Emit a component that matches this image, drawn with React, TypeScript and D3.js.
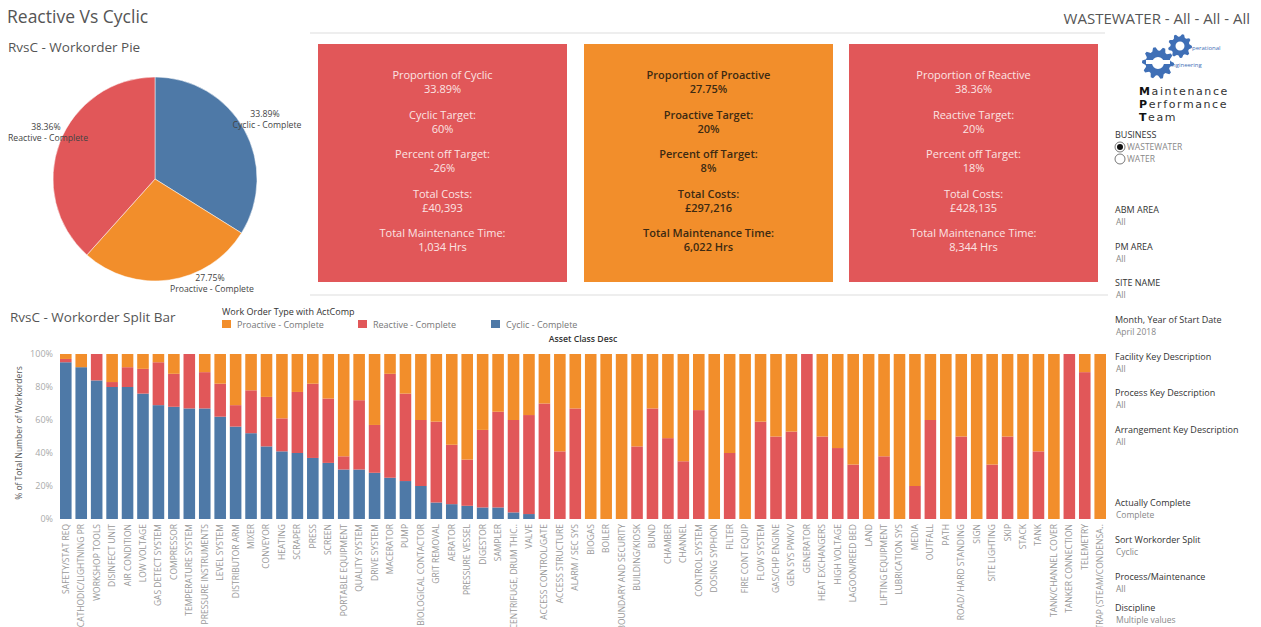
import React from "react";
import * as d3 from "d3";

// ---------- DATA ----------
const pieCategories = ["Cyclic - Complete", "Proactive - Complete", "Reactive - Complete"];
const pieValues = [33.89, 27.75, 38.36];

const assetClasses = [
  "SAFETY/STAT REQ", "CATHODIC/LIGHTNING PR", "WORKSHOP TOOLS", "DISINFECT UNIT", "AIR CONDITION",
  "LOW VOLTAGE", "GAS DETECT SYSTEM", "COMPRESSOR", "TEMPERATURE SYSTEM", "PRESSURE INSTRUMENTS",
  "LEVEL SYSTEM", "DISTRIBUTOR ARM", "MIXER", "CONVEYOR", "HEATING", "SCRAPER", "PRESS", "SCREEN",
  "PORTABLE EQUIPMENT", "QUALITY SYSTEM", "DRIVE SYSTEM", "MACERATOR", "PUMP", "BIOLOGICAL CONTACTOR",
  "GRIT REMOVAL", "AERATOR", "PRESSURE VESSEL", "DIGESTOR", "SAMPLER", "CENTRIFUGE, DRUM THIC..",
  "VALVE", "ACCESS CONTROL/GATE", "ACCESS STRUCTURE", "ALARM / SEC SYS", "BIOGAS", "BOILER",
  "BOUNDARY AND SECURITY", "BUILDING/KIOSK", "BUND", "CHAMBER", "CHANNEL", "CONTROL SYSTEM",
  "DOSING SYPHON", "FILTER", "FIRE CONT EQUIP", "FLOW SYSTEM", "GAS/CHP ENGINE", "GEN SYS PWK/V",
  "GENERATOR", "HEAT EXCHANGERS", "HIGH VOLTAGE", "LAGOON/REED BED", "LAND", "LIFTING EQUIPMENT",
  "LUBRICATION SYS", "MEDIA", "OUTFALL", "PATH", "ROAD/ HARD STANDING", "SIGN", "SITE LIGHTING",
  "SKIP", "STACK", "TANK", "TANK/CHANNEL COVER", "TANKER CONNECTION", "TELEMETRY", "TRAP (STEAM/CONDENSA..",
];
const cyclicPct = [
  95, 92, 84, 80, 80, 76, 69, 68, 67, 67, 62, 56, 52, 44, 41, 40, 37, 34, 30, 30, 28, 25, 23, 20,
  10, 9, 8, 7, 7, 4, 3, 0, 0, 0, 0, 0, 0, 0, 0, 0, 0, 0, 0, 0, 0, 0, 0, 0, 0, 0, 0, 0, 0, 0, 0, 0,
  0, 0, 0, 0, 0, 0, 0, 0, 0, 0, 0, 0,
];
const reactivePct = [
  2, 0, 16, 3, 12, 15, 26, 20, 33, 22, 20, 13, 26, 30, 20, 37, 45, 39, 8, 42, 29, 63, 53, 40,
  49, 36, 28, 47, 58, 56, 60, 70, 41, 67, 0, 0, 0, 44, 67, 49, 35, 66, 0, 40, 0, 59, 50, 53,
  100, 50, 43, 33, 0, 38, 0, 20, 60, 0, 50, 0, 33, 50, 0, 41, 0, 100, 89, 0,
];
const proactivePct = [
  3, 8, 0, 17, 8, 9, 5, 12, 0, 11, 18, 31, 22, 26, 39, 23, 18, 27, 62, 28, 43, 12, 24, 40,
  41, 55, 64, 46, 35, 40, 37, 30, 59, 33, 100, 100, 100, 56, 33, 51, 65, 34, 100, 60, 100, 41, 50, 47,
  0, 50, 57, 67, 100, 62, 100, 80, 40, 100, 50, 100, 67, 50, 100, 59, 100, 0, 11, 100,
];
const yTicks = [0, 20, 40, 60, 80, 100];

const kpiTitles = ["Cyclic", "Proactive", "Reactive"];
const kpiProportion = ["33.89%", "27.75%", "38.36%"];
const kpiTarget = ["60%", "20%", "20%"];
const kpiOffTarget = ["-26%", "8%", "18%"];
const kpiCosts = ["£40,393", "£297,216", "£428,135"];
const kpiTime = ["1,034 Hrs", "6,022 Hrs", "8,344 Hrs"];

const filterTitles = [
  "ABM AREA", "PM AREA", "SITE NAME", "Month, Year of Start Date", "Facility Key Description",
  "Process Key Description", "Arrangement Key Description", "Actually Complete", "Sort Workorder Split",
  "Process/Maintenance", "Discipline",
];
const filterValues = ["All", "All", "All", "April 2018", "All", "All", "All", "Complete", "Cyclic", "All", "Multiple values"];
const filterY = [210, 247, 283, 320, 357, 393, 430, 503, 540, 577, 608];

// ---------- STYLE ----------
const BLUE = "#4E79A7";
const ORANGE = "#F28E2B";
const RED = "#E15759";
const FONT = "'Open Sans', 'Noto Sans', sans-serif";

function gearPath(cx: number, cy: number, rOuter: number, rInner: number, teeth: number, hole: number) {
  const pts: [number, number][] = [];
  const n = teeth * 4;
  for (let i = 0; i < n; i++) {
    const a = (i / n) * Math.PI * 2;
    const r = i % 4 < 2 ? rOuter : rInner;
    pts.push([cx + r * Math.cos(a), cy + r * Math.sin(a)]);
  }
  let p = d3.line()(pts) + "Z";
  p += `M${cx + hole},${cy}A${hole},${hole} 0 1,0 ${cx - hole},${cy}A${hole},${hole} 0 1,0 ${cx + hole},${cy}Z`;
  return p;
}

export default function App() {
  // Pie
  const pieGen = d3.pie<number>().sort(null).value((d) => d);
  const arcs = pieGen(pieValues);
  const arcGen = d3.arc<d3.PieArcDatum<number>>().innerRadius(0).outerRadius(102);
  const pieColors = [BLUE, ORANGE, RED];
  const pieCx = 155, pieCy = 179;
  const pieLabelPos: [number, number][] = [[267, 114], [212, 278], [48, 127]];

  // Bars
  const x = d3.scaleBand<string>().domain(assetClasses).range([60, 1106]).paddingInner(0.25).paddingOuter(0);
  const y = d3.scaleLinear().domain([0, 100]).range([519, 354]);
  const stacks = [cyclicPct, reactivePct, proactivePct];
  const stackColors = [BLUE, RED, ORANGE];

  const boxX = [318, 584, 849];
  const boxFills = [RED, ORANGE, RED];
  const boxText = ["#fbe4e4", "#3d2a12", "#fbe4e4"];

  return (
    <svg width={1261} height={627} style={{ position: "absolute", left: 0, top: 0, background: "#fff" }} fontFamily={FONT}>
      {/* Titles */}
      <text x={7} y={23} fontSize={17.5} fill="#555">Reactive Vs Cyclic</text>
      <text x={8} y={52} fontSize={13.5} fill="#555">RvsC - Workorder Pie</text>
      <text x={1250} y={24} fontSize={15} fill="#555" textAnchor="end">WASTEWATER - All - All - All</text>

      {/* separators */}
      <line x1={310} x2={1105} y1={33} y2={33} stroke="#e8e8e8" strokeWidth={1.5} />
      <line x1={310} x2={1108} y1={295} y2={295} stroke="#e8e8e8" strokeWidth={1.5} />

      {/* Pie */}
      <g transform={`translate(${pieCx},${pieCy})`}>
        {arcs.map((a, i) => (
          <path key={i} d={arcGen(a) as string} fill={pieColors[i]} stroke="#fff" strokeWidth={0.5} />
        ))}
      </g>
      {pieCategories.map((c, i) => (
        <g key={c} fontSize={8.7} fill="#444" textAnchor="middle">
          <text x={pieLabelPos[i][0] - 2} y={pieLabelPos[i][1] + 3}>{pieValues[i].toFixed(2)}%</text>
          <text x={pieLabelPos[i][0]} y={pieLabelPos[i][1] + 14}>{c}</text>
        </g>
      ))}

      {/* KPI boxes */}
      {kpiTitles.map((t, i) => {
        const cx = boxX[i] + 124.5;
        const lines: [string, string][] = [
          [`Proportion of  ${t}`, kpiProportion[i]],
          [`${t} Target:`, kpiTarget[i]],
          ["Percent off Target:", kpiOffTarget[i]],
          ["Total Costs:", kpiCosts[i]],
          ["Total Maintenance Time:", kpiTime[i]],
        ];
        return (
          <g key={t}>
            <rect x={boxX[i]} y={44} width={249} height={238} fill={boxFills[i]} />
            {lines.map((l, j) => (
              <g key={j} fontSize={11} fill={boxText[i]} textAnchor="middle" fontWeight={i === 1 ? 600 : 500}>
                <text x={cx} y={79 + j * 39.5}>{l[0]}</text>
                <text x={cx} y={93 + j * 39.5}>{l[1]}</text>
              </g>
            ))}
          </g>
        );
      })}

      {/* Logo */}
      <g fill="#3f6fb6">
        <path d={gearPath(1158, 63, 16, 12.5, 10, 6)} fillRule="evenodd" />
        <path d={gearPath(1180, 46, 12, 9.5, 9, 4.5)} fillRule="evenodd" />
        <rect x={1146} y={60} width={24} height={4} fill="#fff" />
        <text x={1192} y={50} fontSize={6} fill="#3f6fb6">perational</text>
        <text x={1172} y={67} fontSize={6} fill="#3f6fb6">ngineering</text>
      </g>
      <g fontSize={11} fill="#333" letterSpacing={1.6} fontFamily="'DejaVu Sans', sans-serif">
        <text x={1139} y={95}><tspan fontWeight="bold" fill="#111">M</tspan>aintenance</text>
        <text x={1139} y={108}><tspan fontWeight="bold" fill="#111">P</tspan>erformance</text>
        <text x={1139} y={121}><tspan fontWeight="bold" fill="#111">T</tspan>eam</text>
      </g>

      {/* Right filters */}
      <text x={1115} y={138} fontSize={9} fill="#333">BUSINESS</text>
      <circle cx={1120} cy={147} r={5} fill="#fff" stroke="#555" strokeWidth={0.8} />
      <circle cx={1120} cy={147} r={3} fill="#111" />
      <text x={1127} y={150} fontSize={8.5} fill="#888">WASTEWATER</text>
      <circle cx={1120} cy={159} r={5} fill="#fff" stroke="#555" strokeWidth={0.8} />
      <text x={1127} y={162} fontSize={8.5} fill="#888">WATER</text>
      {filterTitles.map((t, i) => (
        <g key={t}>
          <text x={1115} y={filterY[i] + 3} fontSize={9} fill="#333">{t}</text>
          <text x={1116} y={filterY[i] + 15} fontSize={8.5} fill="#888">{filterValues[i]}</text>
        </g>
      ))}

      {/* Bar chart header */}
      <text x={10} y={322} fontSize={13.5} fill="#555">RvsC - Workorder Split Bar</text>
      <text x={222} y={315} fontSize={9} fill="#333">Work Order Type with ActComp</text>
      {[["Proactive - Complete", ORANGE, 222], ["Reactive - Complete", RED, 358], ["Cyclic - Complete", BLUE, 491]].map(
        ([lab, col, lx]) => (
          <g key={lab as string}>
            <rect x={lx as number} y={320} width={9} height={8} fill={col as string} />
            <text x={(lx as number) + 15} y={327.5} fontSize={9} fill="#777">{lab as string}</text>
          </g>
        )
      )}
      <text x={583} y={342} fontSize={8.7} fill="#333" textAnchor="middle" fontWeight={600}>Asset Class Desc</text>

      {/* Y axis */}
      {yTicks.map((t) => (
        <text key={t} x={53} y={y(t) + 3} fontSize={9} fill="#aaa" textAnchor="end">{t}%</text>
      ))}
      <text transform={`translate(22,${433}) rotate(-90)`} fontSize={8.5} fill="#555" textAnchor="middle">
        % of Total Number of Workorders
      </text>

      {/* Bars */}
      {assetClasses.map((c, i) => {
        let acc = 0;
        return (
          <g key={c}>
            {stacks.map((s, k) => {
              const v = s[i];
              const y0 = acc;
              acc += v;
              if (v <= 0) return null;
              return (
                <rect key={k} x={x(c)} y={y(acc)} width={x.bandwidth()} height={y(y0) - y(acc)} fill={stackColors[k]} />
              );
            })}
          </g>
        );
      })}

      {/* X labels */}
      {assetClasses.map((c) => (
        <text
          key={c}
          transform={`translate(${(x(c) as number) + x.bandwidth() / 2},524) rotate(-90)`}
          fontSize={8.5}
          fill="#999"
          textAnchor="end"
          dy="0.35em"
        >
          {c}
        </text>
      ))}
    </svg>
  );
}
